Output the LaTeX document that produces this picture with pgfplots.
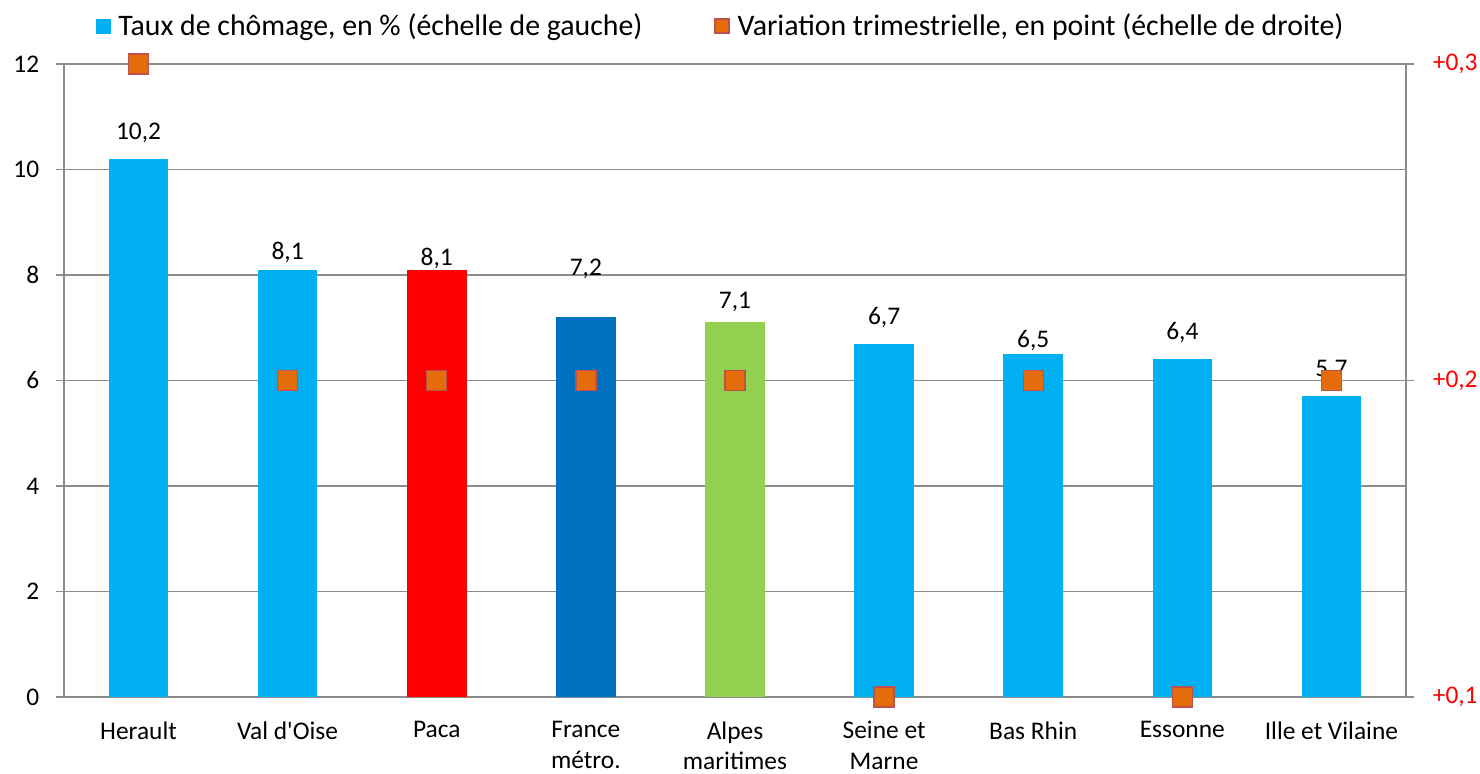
\documentclass[border=0pt]{standalone}
\usepackage{fontspec}
\setmainfont{Carlito}[Ligatures=TeXOff]
\usepackage{pgfplots}
\pgfplotsset{compat=1.18}
\definecolor{cyanbar}{HTML}{00B0F0}
\definecolor{redbar}{HTML}{FF0000}
\definecolor{bluebar}{HTML}{0070C0}
\definecolor{greenbar}{HTML}{92D050}
\definecolor{orangeM}{HTML}{E46C0A}
\definecolor{redM}{HTML}{C0504D}
\definecolor{gridgray}{HTML}{8C8C8C}
\pgfplotsset{
  lbl/.style={nodes near coords={\pgfmathprintnumber[use comma,fixed,fixed zerofill,precision=1,assume math mode=true]{\pgfplotspointmeta}},
    every node near coord/.append style={anchor=center, text=black, font=\fontsize{12.7}{15}\selectfont, yshift=#1}},
  onebar/.style={ybar, bar width=0.4, bar shift=0pt, draw=none, fill=#1},
}
\begin{document}
\fontsize{12.7}{15.5}\selectfont
\begin{tikzpicture}
\path[use as bounding box] (0,0) rectangle (740pt,387pt);
\begin{axis}[
  at={(32pt,38.5pt)}, anchor=south west,
  scale only axis, width=671pt, height=316.5pt,
  xmin=-0.5, xmax=8.5, ymin=0, ymax=12,
  ytick={0,2,...,12},
  xtick={0,...,8},
  xticklabels={Herault, Val d'Oise, Paca, France\\métro., Alpes\\maritimes, Seine et\\Marne, Bas Rhin, Essonne, Ille et Vilaine},
  xticklabel style={align=center, font=\fontsize{12.7}{15.2}\selectfont, yshift=-3.8pt},
  x tick style={draw=none},
  extra x ticks={-0.5,0.5,...,8.5},
  extra x tick labels={},
  extra x tick style={major tick length=4pt, tick style={draw=gridgray, line width=0.75pt}, grid=none},
  tick align=outside,
  major tick length=4pt,
  xtick pos=bottom, ytick pos=left,
  ymajorgrids,
  grid style={draw=gridgray, line width=0.75pt},
  axis line style={draw=gridgray, line width=0.75pt},
  y tick style={draw=gridgray, line width=0.75pt},
  yticklabel style={xshift=-4pt},
  /pgf/number format/assume math mode=true,
  tick label style={font=\fontsize{12.7}{15}\selectfont},
  clip=false,
]
\addplot[onebar=cyanbar, lbl=13pt] coordinates {(0,10.2)};
\addplot[onebar=cyanbar, lbl=8.5pt] coordinates {(1,8.1)};
\addplot[onebar=redbar, lbl=5.5pt] coordinates {(2,8.1)};
\addplot[onebar=bluebar, lbl=24pt] coordinates {(3,7.2)};
\addplot[onebar=greenbar, lbl=10.5pt] coordinates {(4,7.1)};
\addplot[onebar=cyanbar, lbl=13pt] coordinates {(5,6.7)};
\addplot[onebar=cyanbar, lbl=7pt] coordinates {(6,6.5)};
\addplot[onebar=cyanbar, lbl=13.5pt] coordinates {(7,6.4)};
\addplot[onebar=cyanbar, lbl=13pt] coordinates {(8,5.7)};
\end{axis}
\begin{axis}[
  at={(32pt,38.5pt)}, anchor=south west,
  scale only axis, width=671pt, height=316.5pt,
  xmin=-0.5, xmax=8.5, ymin=0.1, ymax=0.3,
  axis x line=none,
  axis y line*=right,
  ytick={0.1,0.2,0.3},
  yticklabels={{+0,1},{+0,2},{+0,3}},
  yticklabel style={text=red, xshift=5pt, font=\fontsize{12.7}{15}\selectfont},
  tick align=outside,
  major tick length=4pt,
  axis line style={draw=gridgray, line width=0.75pt},
  y tick style={draw=gridgray, line width=0.75pt},
  clip=false,
  legend style={at={(0.49,1.06)}, anchor=center, draw=none, fill=none,
    legend columns=2, font=\fontsize{14.9}{17}\selectfont,
    /tikz/every even column/.append style={column sep=34pt}},
]
\addlegendimage{legend image code/.code={\fill[cyanbar] (0pt,-3.5pt) rectangle (7pt,3.5pt); \path (9pt,0pt);}}
\addlegendentry{Taux de chômage, en \% (échelle de gauche)}
\addplot[only marks, mark=square*, mark size=5pt, mark options={fill=orangeM, draw=redM, line width=0.65pt}, forget plot]
  coordinates {(0,0.3) (1,0.2) (2,0.2) (3,0.2) (4,0.2) (5,0.1) (6,0.2) (7,0.1) (8,0.2)};
\addlegendimage{legend image code/.code={\filldraw[fill=orangeM, draw=redM, line width=0.65pt] (0pt,-3.5pt) rectangle (7pt,3.5pt); \path (9pt,0pt);}}
\addlegendentry{Variation trimestrielle, en point (échelle de droite)}
\end{axis}
\end{tikzpicture}
\end{document}
